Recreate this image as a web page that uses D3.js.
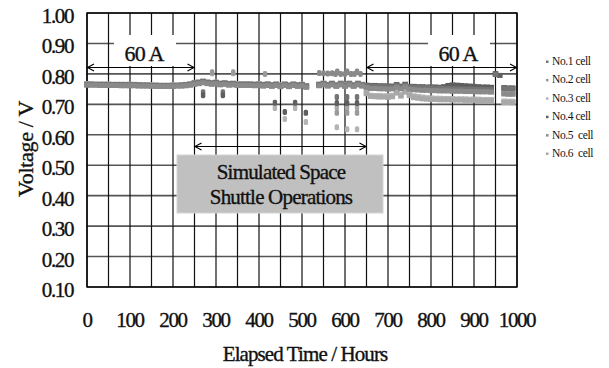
<!DOCTYPE html>
<html><head><meta charset="utf-8">
<script src="https://cdn.jsdelivr.net/npm/d3@7"></script>
<style>
html,body{margin:0;padding:0;background:#fff;}
svg text{font-family:"Liberation Serif","Times New Roman",serif;fill:#111;}
</style></head>
<body><svg id="c" width="609" height="368"></svg>
<script>
// ---------- DATA ----------
const xTicks = [0,100,200,300,400,500,600,700,800,900,1000];
const yTicks = [0.10,0.20,0.30,0.40,0.50,0.60,0.70,0.80,0.90,1.00];
const cellNames = ["No.1 cell","No.2 cell","No.3 cell","No.4 cell","No.5  cell","No.6  cell"];
const hours = [0,10,20,30,40,50,60,70,80,90,100,110,120,130,140,150,160,170,180,190,200,210,220,230,240,250,
 260,270,280,290,300,310,320,330,340,350,360,370,380,390,400,410,420,430,440,450,460,470,480,490,500,510,520,530,540,550,560,570,580,590,600,610,620,630,640,650,
 660,670,680,690,700,710,720,730,740,750,760,770,780,790,800,810,820,830,840,850,860,870,880,890,900,910,920,930,940,950,960,970,980,990];
const cell1 = [0.766,0.766,0.765,0.765,0.765,0.765,0.765,0.764,0.764,0.764,0.764,0.764,0.763,0.763,0.763,0.762,0.762,0.761,0.761,0.761,0.762,0.762,0.763,0.764,0.766,0.770,
 0.772,0.775,0.772,0.770,0.772,0.768,0.770,0.767,0.768,0.766,0.766,0.766,0.766,0.765,0.766,0.764,0.766,0.763,0.766,0.762,0.766,0.762,0.766,0.763,0.765,0.760,null,null,0.765,0.768,0.764,0.768,0.763,0.768,0.763,0.768,0.763,0.768,0.764,0.762,
 0.760,0.759,0.759,0.758,0.758,0.757,0.762,0.758,0.763,0.757,0.756,0.756,0.755,0.755,0.754,0.753,0.753,0.752,0.752,0.751,0.751,0.750,0.750,0.750,0.749,0.749,0.749,0.748,0.748,0.798,null,0.752,0.752,0.751];
const cell2 = [0.764,0.764,0.764,0.763,0.763,0.763,0.763,0.763,0.762,0.762,0.762,0.762,0.762,0.761,0.761,0.761,0.760,0.760,0.760,0.760,0.760,0.761,0.761,0.762,0.764,0.767,
 0.769,0.772,0.769,0.767,0.769,0.765,0.767,0.764,0.765,0.763,0.763,0.763,0.763,0.762,0.763,0.761,0.763,0.760,0.763,0.759,0.763,0.759,0.763,0.760,0.762,0.757,null,null,0.762,0.765,0.761,0.765,0.760,0.765,0.760,0.765,0.760,0.765,0.761,0.758,
 0.756,0.756,0.755,0.755,0.754,0.754,0.758,0.754,0.759,0.753,0.752,0.752,0.751,0.751,0.750,0.750,0.749,0.749,0.748,0.748,0.747,0.747,0.747,0.746,0.746,0.746,0.745,0.745,0.745,null,null,0.738,0.737,0.737];
const cell3 = [0.768,0.768,0.767,0.767,0.767,0.767,0.766,0.766,0.766,0.766,0.766,0.766,0.765,0.765,0.765,0.764,0.764,0.763,0.763,0.763,0.764,0.764,0.765,0.766,0.768,0.772,
 0.774,0.777,0.774,0.772,0.773,0.770,0.771,0.769,0.770,0.768,0.768,0.768,0.768,0.767,0.768,0.766,0.768,0.765,0.767,0.764,0.767,0.764,0.767,0.765,0.766,0.762,null,null,0.767,0.770,0.766,0.770,0.765,0.770,0.765,0.770,0.765,0.770,0.766,0.740,
 0.730,0.729,0.729,0.728,0.728,0.730,0.742,0.732,0.745,0.735,0.728,0.726,0.724,0.722,0.721,0.720,0.720,0.719,0.719,0.719,0.718,0.718,0.718,0.717,0.717,0.717,0.716,0.716,0.716,null,null,0.711,0.710,0.710];
const cell4 = [0.765,0.765,0.765,0.765,0.764,0.764,0.764,0.764,0.764,0.763,0.763,0.763,0.763,0.762,0.762,0.762,0.761,0.761,0.761,0.761,0.761,0.762,0.762,0.763,0.765,0.769,
 0.771,0.774,0.771,0.769,0.771,0.767,0.769,0.766,0.767,0.765,0.765,0.765,0.765,0.764,0.765,0.763,0.765,0.762,0.765,0.761,0.765,0.761,0.765,0.762,0.764,0.759,null,null,0.764,0.767,0.763,0.767,0.762,0.767,0.762,0.767,0.762,0.767,0.763,0.763,
 0.762,0.762,0.761,0.761,0.760,0.760,0.765,0.760,0.766,0.759,0.759,0.758,0.758,0.757,0.757,0.757,0.756,0.758,0.762,0.764,0.763,0.762,0.761,0.760,0.759,0.758,0.757,0.757,0.756,0.801,0.795,0.755,0.754,0.754];
const cell5 = [0.763,0.763,0.763,0.762,0.762,0.762,0.762,0.762,0.761,0.761,0.761,0.761,0.760,0.760,0.760,0.759,0.759,0.759,0.759,0.759,0.759,0.760,0.760,0.761,0.763,0.766,
 0.768,0.771,0.768,0.766,0.768,0.764,0.766,0.763,0.764,0.762,0.762,0.762,0.762,0.761,0.762,0.760,0.762,0.759,0.762,0.758,0.762,0.758,0.762,0.759,0.761,0.756,null,null,0.761,0.764,0.760,0.764,0.759,0.764,0.759,0.764,0.759,0.764,0.760,0.755,
 0.752,0.752,0.751,0.751,0.750,0.751,0.756,0.751,0.757,0.750,0.748,0.747,0.746,0.746,0.745,0.745,0.744,0.744,0.744,0.743,0.743,0.743,0.742,0.742,0.742,0.741,0.741,0.741,0.740,null,null,0.734,0.733,0.733];
const cell6 = [0.767,0.767,0.766,0.766,0.766,0.765,0.765,0.765,0.765,0.765,0.765,0.765,0.764,0.764,0.764,0.763,0.763,0.762,0.762,0.762,0.763,0.763,0.764,0.765,0.767,0.771,
 0.773,0.776,0.773,0.771,0.772,0.769,0.770,0.768,0.769,0.767,0.767,0.767,0.767,0.766,0.767,0.765,0.767,0.764,0.766,0.763,0.766,0.763,0.766,0.764,0.765,0.761,null,null,0.766,0.769,0.765,0.769,0.764,0.769,0.764,0.769,0.764,0.769,0.765,0.735,
 0.726,0.725,0.724,0.724,0.723,0.725,0.737,0.727,0.740,0.729,0.722,0.720,0.718,0.717,0.716,0.716,0.715,0.715,0.715,0.714,0.714,0.714,0.713,0.713,0.713,0.712,0.712,0.712,0.712,null,null,0.706,0.706,0.705];
// excursion points during the simulated operations [hour, voltage]
const cell1Events = [[270,0.740],[316,0.740],[581,0.724],[605,0.724],[628,0.724]];
const cell2Events = [[291,0.805],[340,0.805],[414,0.800],[581,0.672],[605,0.672],[628,0.672]];
const cell3Events = [[437,0.688],[460,0.652],[484,0.688],[509,0.642],[581,0.625],[605,0.618],[628,0.618]];
const cell4Events = [[270,0.730],[316,0.730],[437,0.705],[460,0.675],[484,0.705],[509,0.672],[581,0.704],[605,0.704],[628,0.704]];
const cell5Events = [[540,0.803],[550,0.802],[560,0.801],[570,0.802],[578,0.800],[582,0.808],[590,0.800],[600,0.800],[605,0.808],[614,0.800],[622,0.800],[628,0.808],[636,0.800]];
const cell6Events = [[291,0.802],[340,0.802],[581,0.690],[605,0.690],[628,0.690]];

const cellValues = [cell1,cell2,cell3,cell4,cell5,cell6];
const cellEvents = [cell1Events,cell2Events,cell3Events,cell4Events,cell5Events,cell6Events];
const cellColors = ["#747474","#9a9a9a","#b4b4b4","#5e5e5e","#8a8a8a","#a8a8a8"];

// ---------- CHART ----------
const svg = d3.select("#c");
const L=87,R=517,T=13,B=287;
const x = d3.scaleLinear().domain([0,1000]).range([L,R]);
const y = d3.scaleLinear().domain([0.1,1.0]).range([B,T]);

// grid
const g = svg.append("g");
g.selectAll(".hg").data(d3.range(0.1,1.001,0.1)).join("line")
  .attr("x1",L).attr("x2",R).attr("y1",d=>y(d)).attr("y2",d=>y(d))
  .attr("stroke","#555").attr("stroke-width",1.6);
g.selectAll(".vg").data(d3.range(0,1001,50)).join("line")
  .attr("y1",T).attr("y2",B).attr("x1",d=>x(d)).attr("x2",d=>x(d))
  .attr("stroke","#111").attr("stroke-width",1.2);
g.append("rect").attr("x",L).attr("y",T).attr("width",R-L).attr("height",B-T)
  .attr("fill","none").attr("stroke","#000").attr("stroke-width",1.4);

// label backgrounds
svg.append("rect").attr("x",114).attr("y",35).attr("width",62).attr("height",31).attr("fill","#fff");
svg.append("rect").attr("x",428).attr("y",35).attr("width",62).attr("height",31).attr("fill","#fff");

// data markers
const marks = svg.append("g");
const order = [2,5,1,3,0,4];
order.forEach(i=>{
  const pts = hours.map((h,k)=>[h,cellValues[i][k]]).filter(p=>p[1]!=null);
  marks.append("g").selectAll("rect").data(pts).join("rect")
    .attr("x",d=>x(d[0])-2.8).attr("y",d=>y(d[1])-2.5).attr("width",5.6).attr("height",5)
    .attr("fill",cellColors[i]);
});
[2,5,1,4,0,3].forEach(i=>{
  marks.append("g").selectAll("rect").data(cellEvents[i]).join("rect")
    .attr("x",d=>x(d[0])-2.2).attr("y",d=>y(d[1])-3).attr("width",4.4).attr("height",6)
    .attr("rx",1.6).attr("fill",cellColors[i]);
});

// arrows
function arrow(h1,h2,yy){
  const x1=x(h1),x2=x(h2);
  svg.append("line").attr("x1",x1).attr("x2",x2).attr("y1",yy).attr("y2",yy).attr("stroke","#000").attr("stroke-width",1.1);
  svg.append("path").attr("d",`M${x1+7},${yy-3.5}L${x1+0.5},${yy}L${x1+7},${yy+3.5}`).attr("fill","none").attr("stroke","#000").attr("stroke-width",1.1);
  svg.append("path").attr("d",`M${x2-7},${yy-3.5}L${x2-0.5},${yy}L${x2-7},${yy+3.5}`).attr("fill","none").attr("stroke","#000").attr("stroke-width",1.1);
}
arrow(0,250,67.5);
arrow(650,1000,67.5);
arrow(250,650,146.5);

const heavy = s => s.attr("stroke","#111").attr("stroke-width",0.35);
heavy(svg.append("text").attr("x",144).attr("y",61).attr("text-anchor","middle").attr("font-size",22).attr("letter-spacing",-0.8).text("60 A"));
heavy(svg.append("text").attr("x",458).attr("y",61).attr("text-anchor","middle").attr("font-size",22).attr("letter-spacing",-0.8).text("60 A"));

// shuttle box
svg.append("rect").attr("x",177).attr("y",155).attr("width",206).attr("height",58).attr("fill","#c0c0c0").attr("stroke","#d4d4d4").attr("stroke-width",1);
heavy(svg.append("text").attr("x",281).attr("y",179).attr("text-anchor","middle").attr("font-size",21).attr("letter-spacing",-0.8).text("Simulated Space"));
heavy(svg.append("text").attr("x",281).attr("y",204).attr("text-anchor","middle").attr("font-size",21).attr("letter-spacing",-0.8).text("Shuttle Operations"));

// tick labels
heavy(svg.append("g").selectAll("text").data(yTicks).join("text")
  .attr("x",73).attr("y",d=>y(d)+10).attr("text-anchor","end").attr("font-size",21).attr("letter-spacing",-1.4)
  .text(d=>d.toFixed(2)));
heavy(svg.append("g").selectAll("text").data(xTicks).join("text")
  .attr("x",d=>x(d)).attr("y",327).attr("text-anchor","middle").attr("font-size",21).attr("letter-spacing",-1.4)
  .text(d=>d));

// titles
heavy(svg.append("text").attr("x",305).attr("y",361).attr("text-anchor","middle").attr("font-size",21).attr("letter-spacing",-0.9).text("Elapsed Time / Hours"));
heavy(svg.append("text").attr("transform","translate(33,149) rotate(-90)").attr("text-anchor","middle").attr("font-size",22).attr("letter-spacing",-0.3).text("Voltage / V"));

// legend
const lg = svg.append("g");
cellNames.forEach((n,i)=>{
  const yy = 65 + i*18.4;
  lg.append("rect").attr("x",546).attr("y",yy-4.5).attr("width",2.5).attr("height",2.5).attr("fill",cellColors[i]);
  lg.append("text").attr("x",552).attr("y",yy).attr("font-size",11.5).attr("letter-spacing",-0.4)
    .style("white-space","pre").text(n);
});
</script></body></html>
